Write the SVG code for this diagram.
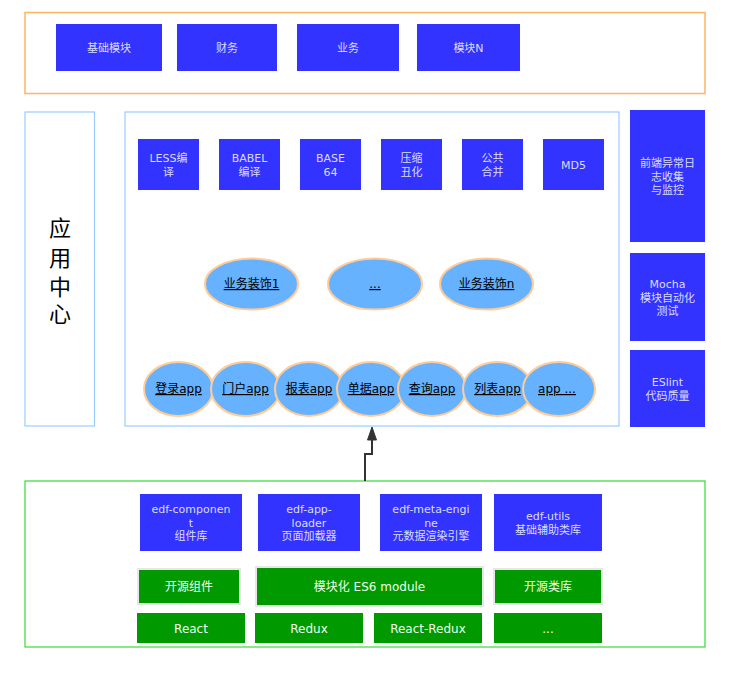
<svg xmlns="http://www.w3.org/2000/svg" width="732" height="676" viewBox="0 0 732 676">
<style>
text{font-family:"DejaVu Sans","Noto Sans CJK SC",sans-serif;text-anchor:middle}
.b{fill:#3333ff}
.bt{fill:#dcdcff;font-size:11px}
.g{fill:#009900}
.gb{fill:#009900;stroke:#e6e6e6;stroke-width:2}
.gt{fill:#eeffee;font-size:12px}
.el{fill:#66b2ff;stroke:#ffcc99;stroke-width:2}
.et{fill:#000;font-size:12px;text-decoration:underline}
.frame{fill:#fff}
</style>
<rect width="732" height="676" fill="#fff"/>
<g id="top-frame"><rect class="frame" x="25" y="12.5" width="680" height="81" stroke="#ffb366" stroke-width="1.5"/></g>
<g id="n-jichu"><rect class="b" x="56" y="24" width="106" height="47"/><text class="bt" x="109" y="52">基础模块</text></g>
<g id="n-caiwu"><rect class="b" x="177" y="24" width="100" height="47"/><text class="bt" x="227" y="52">财务</text></g>
<g id="n-yewu"><rect class="b" x="297" y="24" width="102" height="47"/><text class="bt" x="348" y="52">业务</text></g>
<g id="n-mokuain"><rect class="b" x="417" y="24" width="103" height="47"/><text class="bt" x="468.5" y="52">模块N</text></g>

<g id="app-center"><rect class="frame" x="25" y="112" width="69.5" height="314" stroke="#99ccff" stroke-width="1.2"/>
<text x="60" y="236" font-size="22" fill="#000">应</text><text x="60" y="265.5" font-size="22" fill="#000">用</text><text x="60" y="295" font-size="22" fill="#000">中</text><text x="60" y="322" font-size="22" fill="#000">心</text></g>
<g id="main-frame"><rect class="frame" x="125" y="112" width="494" height="314" stroke="#99ccff" stroke-width="1.2"/></g>

<g id="n-less"><rect class="b" x="138" y="139" width="61" height="51"/><text class="bt" x="168.5" y="162">LESS编</text><text class="bt" x="168.5" y="176">译</text></g>
<g id="n-babel"><rect class="b" x="219" y="139" width="61" height="51"/><text class="bt" x="249.5" y="162">BABEL</text><text class="bt" x="249.5" y="176">编译</text></g>
<g id="n-base64"><rect class="b" x="300" y="139" width="61" height="51"/><text class="bt" x="330.5" y="162">BASE</text><text class="bt" x="330.5" y="176">64</text></g>
<g id="n-yasuo"><rect class="b" x="381" y="139" width="61" height="51"/><text class="bt" x="411.5" y="162">压缩</text><text class="bt" x="411.5" y="176">丑化</text></g>
<g id="n-gonggong"><rect class="b" x="462" y="139" width="61" height="51"/><text class="bt" x="492.5" y="162">公共</text><text class="bt" x="492.5" y="176">合并</text></g>
<g id="n-md5"><rect class="b" x="543" y="139" width="61" height="51"/><text class="bt" x="573.5" y="169">MD5</text></g>

<g id="n-zs1"><ellipse class="el" cx="251.5" cy="284" rx="46.5" ry="25.5"/><text class="et" x="251.5" y="288">业务装饰1</text></g>
<g id="n-zsdots"><ellipse class="el" cx="375" cy="284" rx="47" ry="25.5"/><text class="et" x="375" y="288">...</text></g>
<g id="n-zsn"><ellipse class="el" cx="486.5" cy="284" rx="46.5" ry="25.5"/><text class="et" x="486.5" y="288">业务装饰n</text></g>

<g id="n-denglu"><ellipse class="el" cx="178.5" cy="389" rx="34.5" ry="27"/><text class="et" x="178.5" y="393">登录app</text></g>
<g id="n-menhu"><ellipse class="el" cx="245.5" cy="389" rx="34.5" ry="27"/><text class="et" x="245.5" y="393">门户app</text></g>
<g id="n-baobiao"><ellipse class="el" cx="309" cy="389" rx="34" ry="27"/><text class="et" x="309" y="393">报表app</text></g>
<g id="n-danju"><ellipse class="el" cx="371" cy="389" rx="34" ry="27"/><text class="et" x="371" y="393">单据app</text></g>
<g id="n-chaxun"><ellipse class="el" cx="432" cy="389" rx="34" ry="27"/><text class="et" x="432" y="393">查询app</text></g>
<g id="n-liebiao"><ellipse class="el" cx="497.5" cy="389" rx="34.5" ry="27"/><text class="et" x="497.5" y="393">列表app</text></g>
<g id="n-appdots"><ellipse class="el" cx="559" cy="389" rx="36" ry="27"/><text class="et" x="557" y="393">app ...</text></g>

<g id="n-monitor"><rect class="b" x="630" y="110" width="75" height="132"/><text class="bt" x="667.5" y="167">前端异常日</text><text class="bt" x="667.5" y="180.5">志收集</text><text class="bt" x="667.5" y="194">与监控</text></g>
<g id="n-mocha"><rect class="b" x="630" y="253" width="75" height="88"/><text class="bt" x="667.5" y="288">Mocha</text><text class="bt" x="667.5" y="301.5">模块自动化</text><text class="bt" x="667.5" y="315">测试</text></g>
<g id="n-eslint"><rect class="b" x="630" y="350" width="75" height="77"/><text class="bt" x="667.5" y="386">ESlint</text><text class="bt" x="667.5" y="399.5">代码质量</text></g>

<g id="bottom-frame"><rect class="frame" x="25" y="481" width="680" height="166" stroke="#33dd33" stroke-width="1.2"/></g>

<g id="connectors">
<polyline points="365,481 365,454 372,454 372,440" fill="none" stroke="#333" stroke-width="2"/>
<polygon points="372,427 376.5,440 367.5,440" fill="#333" stroke="#333" stroke-width="1"/>
</g>

<g id="n-edf-component"><rect class="b" x="140" y="494" width="102" height="57"/><text class="bt" x="191" y="513">edf-componen</text><text class="bt" x="191" y="527">t</text><text class="bt" x="191" y="540">组件库</text></g>
<g id="n-edf-app-loader"><rect class="b" x="258" y="494" width="102" height="57"/><text class="bt" x="309" y="513">edf-app-</text><text class="bt" x="309" y="527">loader</text><text class="bt" x="309" y="540">页面加载器</text></g>
<g id="n-edf-meta-engine"><rect class="b" x="380" y="494" width="102" height="57"/><text class="bt" x="431" y="513">edf-meta-engi</text><text class="bt" x="431" y="527">ne</text><text class="bt" x="431" y="540">元数据渲染引擎</text></g>
<g id="n-edf-utils"><rect class="b" x="494" y="494" width="108" height="57"/><text class="bt" x="548" y="520">edf-utils</text><text class="bt" x="548" y="534">基础辅助类库</text></g>

<g id="n-kyzj"><rect class="gb" x="138" y="569" width="102" height="35"/><text class="gt" x="189" y="591">开源组件</text></g>
<g id="n-es6"><rect class="gb" x="256" y="567" width="227" height="39"/><text class="gt" x="369.5" y="591">模块化 ES6 module</text></g>
<g id="n-kylk"><rect class="gb" x="494" y="569" width="108" height="35"/><text class="gt" x="548" y="591">开源类库</text></g>

<g id="n-react"><rect class="g" x="137" y="613" width="108" height="30"/><text class="gt" x="191" y="633">React</text></g>
<g id="n-redux"><rect class="g" x="255" y="613" width="108" height="30"/><text class="gt" x="309" y="633">Redux</text></g>
<g id="n-react-redux"><rect class="g" x="374" y="613" width="108" height="30"/><text class="gt" x="428" y="633">React-Redux</text></g>
<g id="n-libdots"><rect class="g" x="494" y="613" width="108" height="30"/><text class="gt" x="548" y="633">...</text></g>
</svg>
